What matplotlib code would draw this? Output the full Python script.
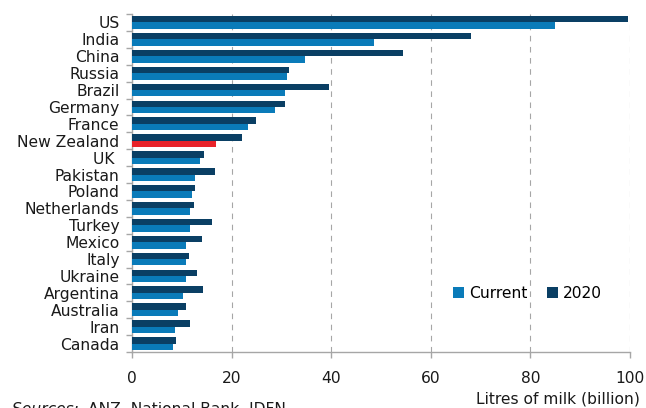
import numpy as np
import matplotlib.pyplot as plt

# milk production by country, billion litres
countries = ['US', 'India', 'China', 'Russia', 'Brazil', 'Germany', 'France',
             'New Zealand', 'UK ', 'Pakistan', 'Poland', 'Netherlands', 'Turkey',
             'Mexico', 'Italy', 'Ukraine', 'Argentina', 'Australia', 'Iran', 'Canada']
current = [85.0, 48.6, 34.7, 31.1, 30.7, 28.7, 23.3, 16.9, 13.7, 12.6,
           12.0, 11.6, 11.6, 10.8, 10.8, 10.8, 10.2, 9.2, 8.6, 8.2]
proj_2020 = [99.6, 68.1, 54.4, 31.5, 39.6, 30.7, 24.9, 22.1, 14.5, 16.7,
             12.7, 12.5, 16.1, 14.1, 11.4, 13.0, 14.3, 10.9, 11.7, 8.8]
xticks = [0, 20, 40, 60, 80, 100]

c_cur = '#0a7bb9'
c_2020 = '#0a3f64'
c_nz = '#e8232a'
grey = '#a6a6a6'
txt = '#1a1a1a'
fs = 11.2

plt.rcParams['font.family'] = ['DejaVu Sans']

fig = plt.figure(figsize=(6.46, 4.08), dpi=100)
ax = fig.add_axes([132 / 646, 1 - 352 / 408, (630 - 132) / 646, (352 - 14) / 408])

y = np.arange(len(countries))
h = 0.38
cur_colors = [c_nz if c == 'New Zealand' else c_cur for c in countries]
ax.barh(y - h / 2, proj_2020, height=h, color=c_2020, label='2020', zorder=3)
ax.barh(y + h / 2, current, height=h, color=cur_colors, label='Current', zorder=3)

ax.set_ylim(len(countries) - 0.5, -0.5)
ax.set_xlim(0, 100)
ax.set_yticks(y)
ax.set_yticklabels(countries, fontsize=fs, color=txt)
ax.set_yticks(np.arange(len(countries) + 1) - 0.5, minor=True)
ax.tick_params(axis='y', which='major', length=0, pad=9)
ax.tick_params(axis='y', which='minor', length=4, color=grey, width=1)

ax.set_xticks(xticks)
ax.set_xticklabels([str(t) for t in xticks], fontsize=fs, color=txt)
ax.tick_params(axis='x', length=4, color=grey, width=1, pad=10)
ax.grid(axis='x', color=grey, linestyle=(0, (5, 5)), linewidth=0.8, zorder=0)

for side in ['top', 'right']:
    ax.spines[side].set_visible(False)
for side in ['left', 'bottom']:
    ax.spines[side].set_color(grey)
    ax.spines[side].set_linewidth(1)

handles, labels = ax.get_legend_handles_labels()
ax.legend(handles[::-1], labels[::-1], loc='center left', bbox_to_anchor=(0.645, 0.172),
          frameon=False, fontsize=fs, handlelength=0.7, handleheight=0.7,
          handletextpad=0.3, ncol=2, columnspacing=1.3, borderaxespad=0,
          borderpad=0)

fig.text(640 / 646, 1 - 399 / 408, 'Litres of milk (billion)', ha='right', va='center',
         fontsize=fs, color=txt)
fig.text(12 / 646, 1 - 410 / 408, 'Sources: ', ha='left', va='center', fontsize=fs,
         style='italic', color=txt)
fig.text(88 / 646, 1 - 410 / 408, 'ANZ, National Bank, IDFN', ha='left', va='center',
         fontsize=fs, color=txt)

fig.savefig('out.png', dpi=100)
